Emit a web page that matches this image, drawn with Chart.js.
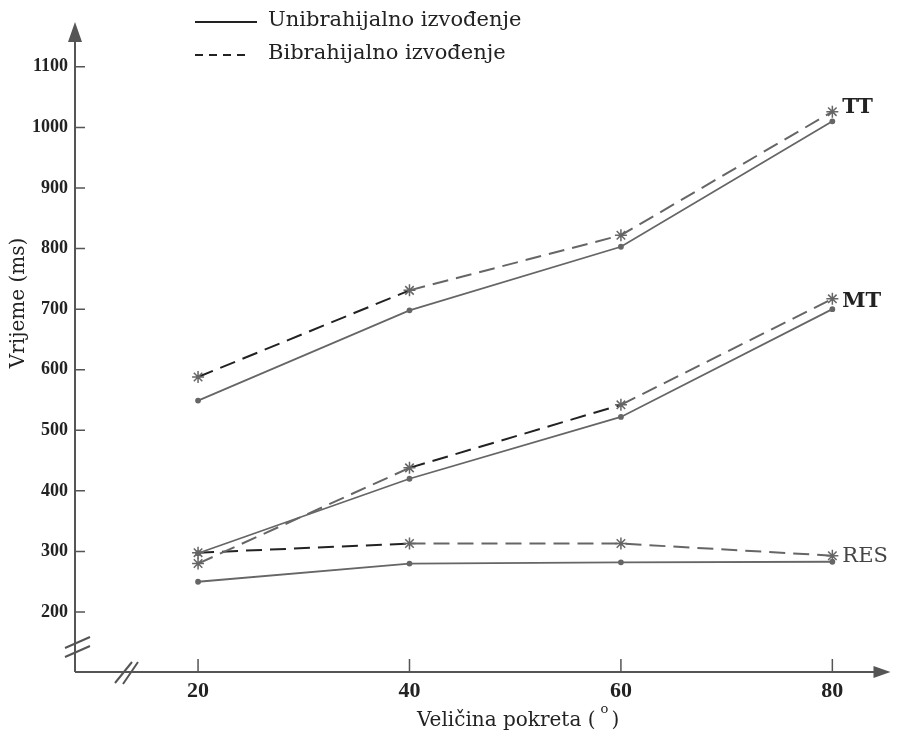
<!DOCTYPE html>
<html>
<head>
<meta charset="utf-8">
<script src="https://cdn.jsdelivr.net/npm/chart.js@4/dist/chart.umd.min.js"></script>
<style>
  html, body { margin: 0; padding: 0; background: #fff; }
  #wrap { width: 898px; height: 739px; }
</style>
</head>
<body>
<div id="wrap"><canvas id="chart" width="898" height="739"></canvas></div>
<script>
// angles (x) and times in ms
const angles = [20, 40, 60, 80]
const ttUni = [549, 698, 803, 1010]
const ttBi = [588, 731, 822, 1026]
const mtUni = [297, 420, 522, 700]
const mtBi = [280, 438, 542, 717]
const resUni = [250, 280, 282, 283]
const resBi = [298, 313, 313, 293]

const seriesNames = ['TT', 'MT', 'RES']
const legendLabels = ['Unibrahijalno izvođenje', 'Bibrahijalno izvođenje']
const yTicks = [200, 300, 400, 500, 600, 700, 800, 900, 1000, 1100]
const xTicks = [20, 40, 60, 80]
const yTitle = 'Vrijeme (ms)'
const xTitle = 'Veličina pokreta ('

const gray = '#666'
const dark = '#222'
const serif = '"DejaVu Serif", "Liberation Serif", serif'
const times = '"Liberation Serif", "DejaVu Serif", serif'

const toPoints = function(vals){
    return angles.map(function(a, i){ return {x: a, y: vals[i]} })
}

// dark segments in the scan (toner), by segment index
const darkSeg = function(idx){
    return function(ctx){ return idx.indexOf(ctx.p0DataIndex) >= 0 ? dark : undefined }
}

const uniStyle = {
    borderColor: gray,
    borderWidth: 1.8,
    pointStyle: 'circle',
    pointRadius: 2,
    pointBackgroundColor: gray,
    pointBorderColor: gray,
    tension: 0
}
const biStyle = {
    borderColor: gray,
    borderWidth: 2,
    borderDash: [16, 8],
    pointStyle: 'star',
    pointRadius: 6,
    pointBorderColor: gray,
    pointBorderWidth: 1.5,
    tension: 0
}

const datas = {
    datasets: [
        Object.assign({label: 'TT uni', data: toPoints(ttUni)}, uniStyle),
        Object.assign({label: 'TT bi', data: toPoints(ttBi), segment: {borderColor: darkSeg([0])}}, biStyle),
        Object.assign({label: 'MT uni', data: toPoints(mtUni)}, uniStyle),
        Object.assign({label: 'MT bi', data: toPoints(mtBi), segment: {borderColor: darkSeg([1])}}, biStyle),
        Object.assign({label: 'RES uni', data: toPoints(resUni)}, uniStyle),
        Object.assign({label: 'RES bi', data: toPoints(resBi), segment: {borderColor: darkSeg([0])}}, biStyle)
    ]
}

// axes with arrows, inner tick marks, break marks, legend and labels
const decor = {
    id: 'decor',
    afterDraw: function(chart){
        const ctx = chart.ctx
        const a = chart.chartArea
        const xs = chart.scales.x
        const ys = chart.scales.y
        ctx.save()

        ctx.strokeStyle = '#555'
        ctx.fillStyle = '#555'
        ctx.lineWidth = 2
        ctx.beginPath()
        ctx.moveTo(a.left, a.bottom)
        ctx.lineTo(a.left, a.top + 12)
        ctx.moveTo(a.left, a.bottom)
        ctx.lineTo(a.right - 10, a.bottom)
        ctx.stroke()
        // arrow heads
        ctx.beginPath()
        ctx.moveTo(a.left, a.top)
        ctx.lineTo(a.left - 7, a.top + 20)
        ctx.lineTo(a.left + 7, a.top + 20)
        ctx.closePath()
        ctx.fill()
        ctx.beginPath()
        ctx.moveTo(a.right, a.bottom)
        ctx.lineTo(a.right - 17, a.bottom - 6)
        ctx.lineTo(a.right - 17, a.bottom + 6)
        ctx.closePath()
        ctx.fill()

        // tick marks pointing inward
        ctx.lineWidth = 1.5
        ctx.beginPath()
        yTicks.forEach(function(v){
            const y = ys.getPixelForValue(v)
            ctx.moveTo(a.left, y)
            ctx.lineTo(a.left + 10, y)
        })
        xTicks.forEach(function(v){
            const x = xs.getPixelForValue(v)
            ctx.moveTo(x, a.bottom)
            ctx.lineTo(x, a.bottom - 13)
        })
        ctx.stroke()

        // axis break marks
        ctx.lineWidth = 2
        ctx.beginPath()
        ctx.moveTo(a.left - 10, a.bottom - 24); ctx.lineTo(a.left + 15, a.bottom - 35)
        ctx.moveTo(a.left - 10, a.bottom - 15); ctx.lineTo(a.left + 15, a.bottom - 26)
        ctx.moveTo(a.left + 40, a.bottom + 11); ctx.lineTo(a.left + 57, a.bottom - 10)
        ctx.moveTo(a.left + 48, a.bottom + 12); ctx.lineTo(a.left + 63, a.bottom - 10)
        ctx.stroke()

        // legend
        ctx.strokeStyle = dark
        ctx.fillStyle = dark
        ctx.lineWidth = 2
        ctx.beginPath()
        ctx.moveTo(195, 22); ctx.lineTo(257, 22)
        ctx.stroke()
        ctx.setLineDash([8, 6])
        ctx.beginPath()
        ctx.moveTo(195, 55); ctx.lineTo(245, 55)
        ctx.stroke()
        ctx.setLineDash([])
        ctx.font = '21px ' + serif
        ctx.textAlign = 'left'
        ctx.textBaseline = 'middle'
        ctx.fillText(legendLabels[0], 268, 21)
        ctx.fillText(legendLabels[1], 268, 54)

        // series names next to last point of the dashed lines
        const biSets = [1, 3, 5]
        const yOff = [-4, 3, 1]
        biSets.forEach(function(di, i){
            const pts = chart.getDatasetMeta(di).data
            const p = pts[pts.length - 1]
            ctx.fillStyle = i === 2 ? '#444' : dark
            ctx.font = (i === 2 ? '' : 'bold ') + '21px ' + serif
            ctx.fillText(seriesNames[i], p.x + 10, p.y + yOff[i])
        })

        // axis titles
        ctx.fillStyle = dark
        ctx.font = '20px ' + serif
        ctx.save()
        ctx.translate(19, 303)
        ctx.rotate(-Math.PI / 2)
        ctx.textAlign = 'center'
        ctx.fillText(yTitle, 0, 0)
        ctx.restore()

        ctx.textAlign = 'left'
        ctx.fillText(xTitle, 417, 721)
        const w = ctx.measureText(xTitle).width
        ctx.font = '13px ' + serif
        ctx.fillText('o', 417 + w + 5, 710)
        ctx.font = '20px ' + serif
        ctx.fillText(')', 417 + w + 16, 721)

        ctx.restore()
    }
}

const config = {
    type: 'line',
    data: datas,
    options: {
        responsive: false,
        animation: false,
        events: [],
        layout: {
            padding: {top: 22, right: 3, left: 0, bottom: 0}
        },
        plugins: {
            legend: { display: false },
            tooltip: { enabled: false }
        },
        scales: {
            x: {
                type: 'linear',
                min: 8.36,
                max: 85.5,
                afterBuildTicks: function(scale){
                    scale.ticks = xTicks.map(function(v){ return {value: v} })
                },
                afterFit: function(scale){ scale.height = 67 },
                grid: { display: false, drawTicks: false },
                border: { display: false },
                ticks: {
                    padding: 6,
                    color: dark,
                    maxRotation: 0,
                    callback: function(v){ return String(v) },
                    font: { family: times, size: 22, weight: 'bold' }
                }
            },
            y: {
                type: 'linear',
                min: 101,
                max: 1174,
                afterBuildTicks: function(scale){
                    scale.ticks = yTicks.map(function(v){ return {value: v} })
                },
                afterFit: function(scale){ scale.width = 75 },
                grid: { display: false, drawTicks: false },
                border: { display: false },
                ticks: {
                    padding: 7,
                    color: dark,
                    callback: function(v){ return String(v) },
                    font: { family: times, size: 18, weight: 'bold' }
                }
            }
        }
    },
    plugins: [decor]
}

const chart = new Chart(document.getElementById('chart'), config)
</script>
</body>
</html>
